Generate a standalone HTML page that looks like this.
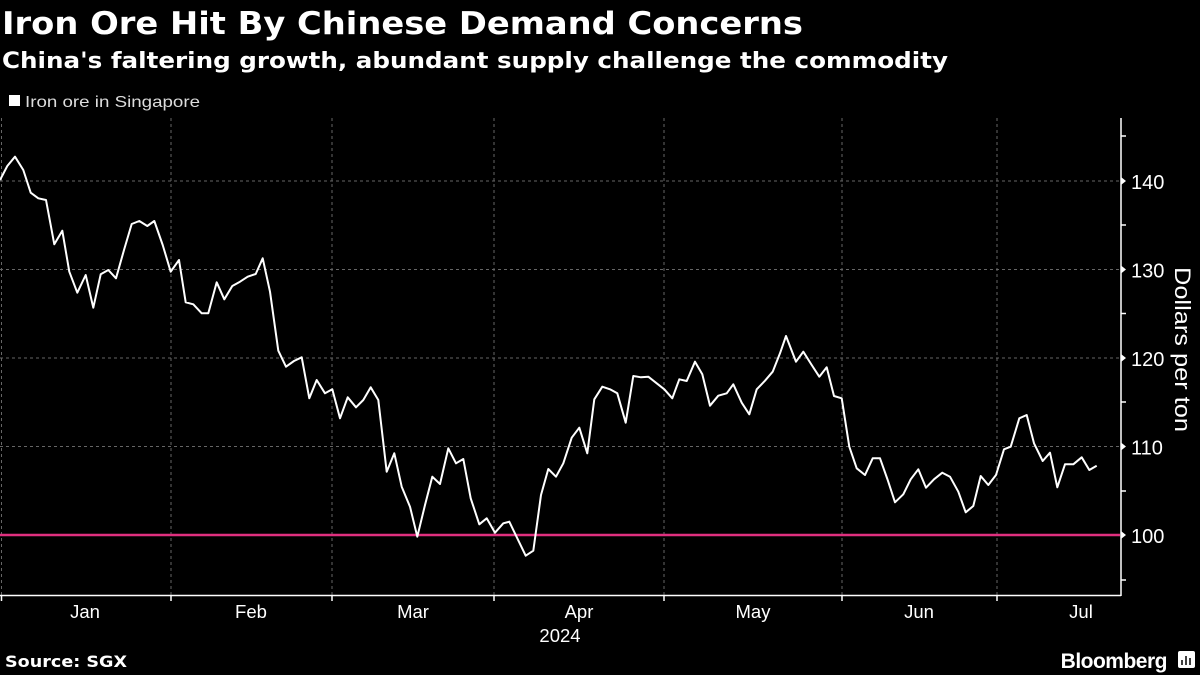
<!DOCTYPE html>
<html><head><meta charset="utf-8"><style>
html,body{margin:0;padding:0;background:#000;}
body{width:1200px;height:675px;overflow:hidden;position:relative;font-family:"Liberation Sans","DejaVu Sans",sans-serif;color:#fff;}
</style></head><body>
<svg width="1200" height="675" viewBox="0 0 1200 675" xmlns="http://www.w3.org/2000/svg" style="position:absolute;left:0;top:0">
<rect width="1200" height="675" fill="#000"/>
<text x="2" y="34" font-family="DejaVu Sans, sans-serif" font-weight="bold" font-size="31" fill="#fff" textLength="801" lengthAdjust="spacingAndGlyphs">Iron Ore Hit By Chinese Demand Concerns</text>
<text x="2" y="68" font-family="DejaVu Sans, sans-serif" font-weight="bold" font-size="22" fill="#fff" textLength="946" lengthAdjust="spacingAndGlyphs">China's faltering growth, abundant supply challenge the commodity</text>
<rect x="9" y="95" width="11" height="11" fill="#fff"/>
<text x="25" y="107" font-size="16" fill="#ddd" textLength="175" lengthAdjust="spacingAndGlyphs">Iron ore in Singapore</text>
<g stroke="#666" stroke-dasharray="3,3" stroke-width="1">
<line x1="0" y1="181" x2="1120" y2="181"/><line x1="0" y1="269.5" x2="1120" y2="269.5"/>
<line x1="0" y1="358" x2="1120" y2="358"/><line x1="0" y1="446.5" x2="1120" y2="446.5"/>
<line x1="1.5" y1="118" x2="1.5" y2="595"/><line x1="171" y1="118" x2="171" y2="595"/>
<line x1="332" y1="118" x2="332" y2="595"/><line x1="494" y1="118" x2="494" y2="595"/>
<line x1="664" y1="118" x2="664" y2="595"/><line x1="842" y1="118" x2="842" y2="595"/>
<line x1="997" y1="118" x2="997" y2="595"/>
</g>
<line x1="0" y1="535" x2="1120" y2="535" stroke="#e0307f" stroke-width="2.5"/>
<g stroke="#fff" stroke-width="1.5">
<line x1="0" y1="595.5" x2="1121" y2="595.5"/>
<line x1="1121" y1="118" x2="1121" y2="596"/>
<line x1="1121" y1="136" x2="1126" y2="136"/><line x1="1121" y1="225" x2="1126" y2="225"/>
<line x1="1121" y1="313.5" x2="1126" y2="313.5"/><line x1="1121" y1="402" x2="1126" y2="402"/>
<line x1="1121" y1="491" x2="1126" y2="491"/><line x1="1121" y1="580" x2="1126" y2="580"/>
<line x1="1.5" y1="595" x2="1.5" y2="601"/><line x1="171" y1="595" x2="171" y2="601"/>
<line x1="332" y1="595" x2="332" y2="601"/><line x1="494" y1="595" x2="494" y2="601"/>
<line x1="664" y1="595" x2="664" y2="601"/><line x1="842" y1="595" x2="842" y2="601"/>
<line x1="997" y1="595" x2="997" y2="601"/>
</g>
<g fill="#fff"><path d="M1121 177 l5 4 l-5 4z"/><path d="M1121 265.5 l5 4 l-5 4z"/><path d="M1121 354 l5 4 l-5 4z"/><path d="M1121 442.5 l5 4 l-5 4z"/><path d="M1121 531 l5 4 l-5 4z"/></g>
<g font-size="20" fill="#fff">
<text x="1131" y="189">140</text><text x="1131" y="277.5">130</text><text x="1131" y="366">120</text>
<text x="1131" y="454.5">110</text><text x="1131" y="543">100</text>
</g>
<text transform="translate(1175,267) rotate(90)" font-size="22" fill="#fff" textLength="165" lengthAdjust="spacingAndGlyphs">Dollars per ton</text>
<g font-size="18.5" fill="#fff" text-anchor="middle">
<text x="85" y="618">Jan</text><text x="251" y="618">Feb</text><text x="413" y="618">Mar</text>
<text x="579" y="618">Apr</text><text x="753" y="618">May</text><text x="919" y="618">Jun</text>
<text x="1081" y="618">Jul</text><text x="560" y="642">2024</text>
</g>
<text x="5" y="667" font-family="DejaVu Sans, sans-serif" font-weight="bold" font-size="16" fill="#fff" textLength="122" lengthAdjust="spacingAndGlyphs">Source: SGX</text>
<text x="1167" y="668" text-anchor="end" font-weight="bold" font-size="21" fill="#fff" letter-spacing="-0.5">Bloomberg</text>
<rect x="1178" y="651" width="17" height="17" rx="2" fill="#fff"/>
<g stroke="#000" stroke-width="1.5"><line x1="1182" y1="665" x2="1182" y2="660"/><line x1="1186" y1="665" x2="1186" y2="656"/><line x1="1190" y1="665" x2="1190" y2="658"/></g>
<polyline fill="none" stroke="#fff" stroke-width="2" stroke-linejoin="round" points="0,180 7.3,166 15,156.7 23.3,170 30.7,192.7 38.3,198.3 46,200 54.3,244.3 62.3,230.7 69.3,271.7 77.3,292.7 85.7,275 93.3,307.7 100.7,274.3 108.3,270 116,278.3 124,250 131.7,224 139.3,221 147.3,226 154.3,221 162.7,245 170.7,271.7 179,260 185.7,302.3 193.3,304.3 201.7,313.3 208.3,313.3 216.7,282.3 224.3,299.3 232.3,286 240,281.7 247.7,276.7 255.7,274 262.7,258.3 270,291.7 278.3,350.7 286,366.7 294,361 301.7,357.3 309.3,398.3 316.7,380 325,393.3 332.3,389.3 340,418.3 347.7,397.3 356,407.3 363.3,400 370.7,387.3 378.3,400 386.7,471.7 394.3,453.3 401.7,486.7 410,506.7 417.3,536.7 425,505 432.3,476.7 440,484 448.3,448.3 456,463.3 463.3,459 470.7,498.3 479.3,524.3 486.7,518.3 495,532.7 503.3,523.3 509.3,521.7 517.3,538.3 525.7,555.7 533.3,550.7 541,495 548.3,469 556,476.7 563.3,463.3 571.7,437.7 579.3,427.7 587.3,453.3 594.3,399.3 602.3,386.7 610,389.3 617.3,393.3 625.7,422.7 633.3,376 641,377.3 648.3,376.7 656.7,383.3 664.3,389.3 672.3,398.3 679.3,379.3 686.7,381 695,361.7 702.3,374.3 710,405.7 718.3,395.7 726.7,393.3 733.3,384.3 741.7,402.7 749.3,414.3 756.7,389.3 765,380.7 772.7,371.7 780,353.3 786,336 796,361.7 803.3,351.7 811.7,365 819.3,376.7 826.7,367.3 834,396 841.7,398.3 849.3,446.7 856.7,468.3 865,475 872.7,458.3 880,458.3 887.7,480 895,502.3 903.3,494.3 910.7,479.3 918.3,469.3 926,487.7 934,479.3 942.3,472.7 950,476.7 958.3,491.7 965.7,512.3 973.3,506 980.7,476 988.3,485 996,475 1004,449.3 1010.7,446.7 1019.3,418.3 1026.7,415 1034,443.3 1042.7,461 1050,452.7 1057.3,487.3 1065,464.3 1073.3,464.3 1081.7,457.3 1089.3,470 1096.7,465.7"/>
</svg>
</body></html>
